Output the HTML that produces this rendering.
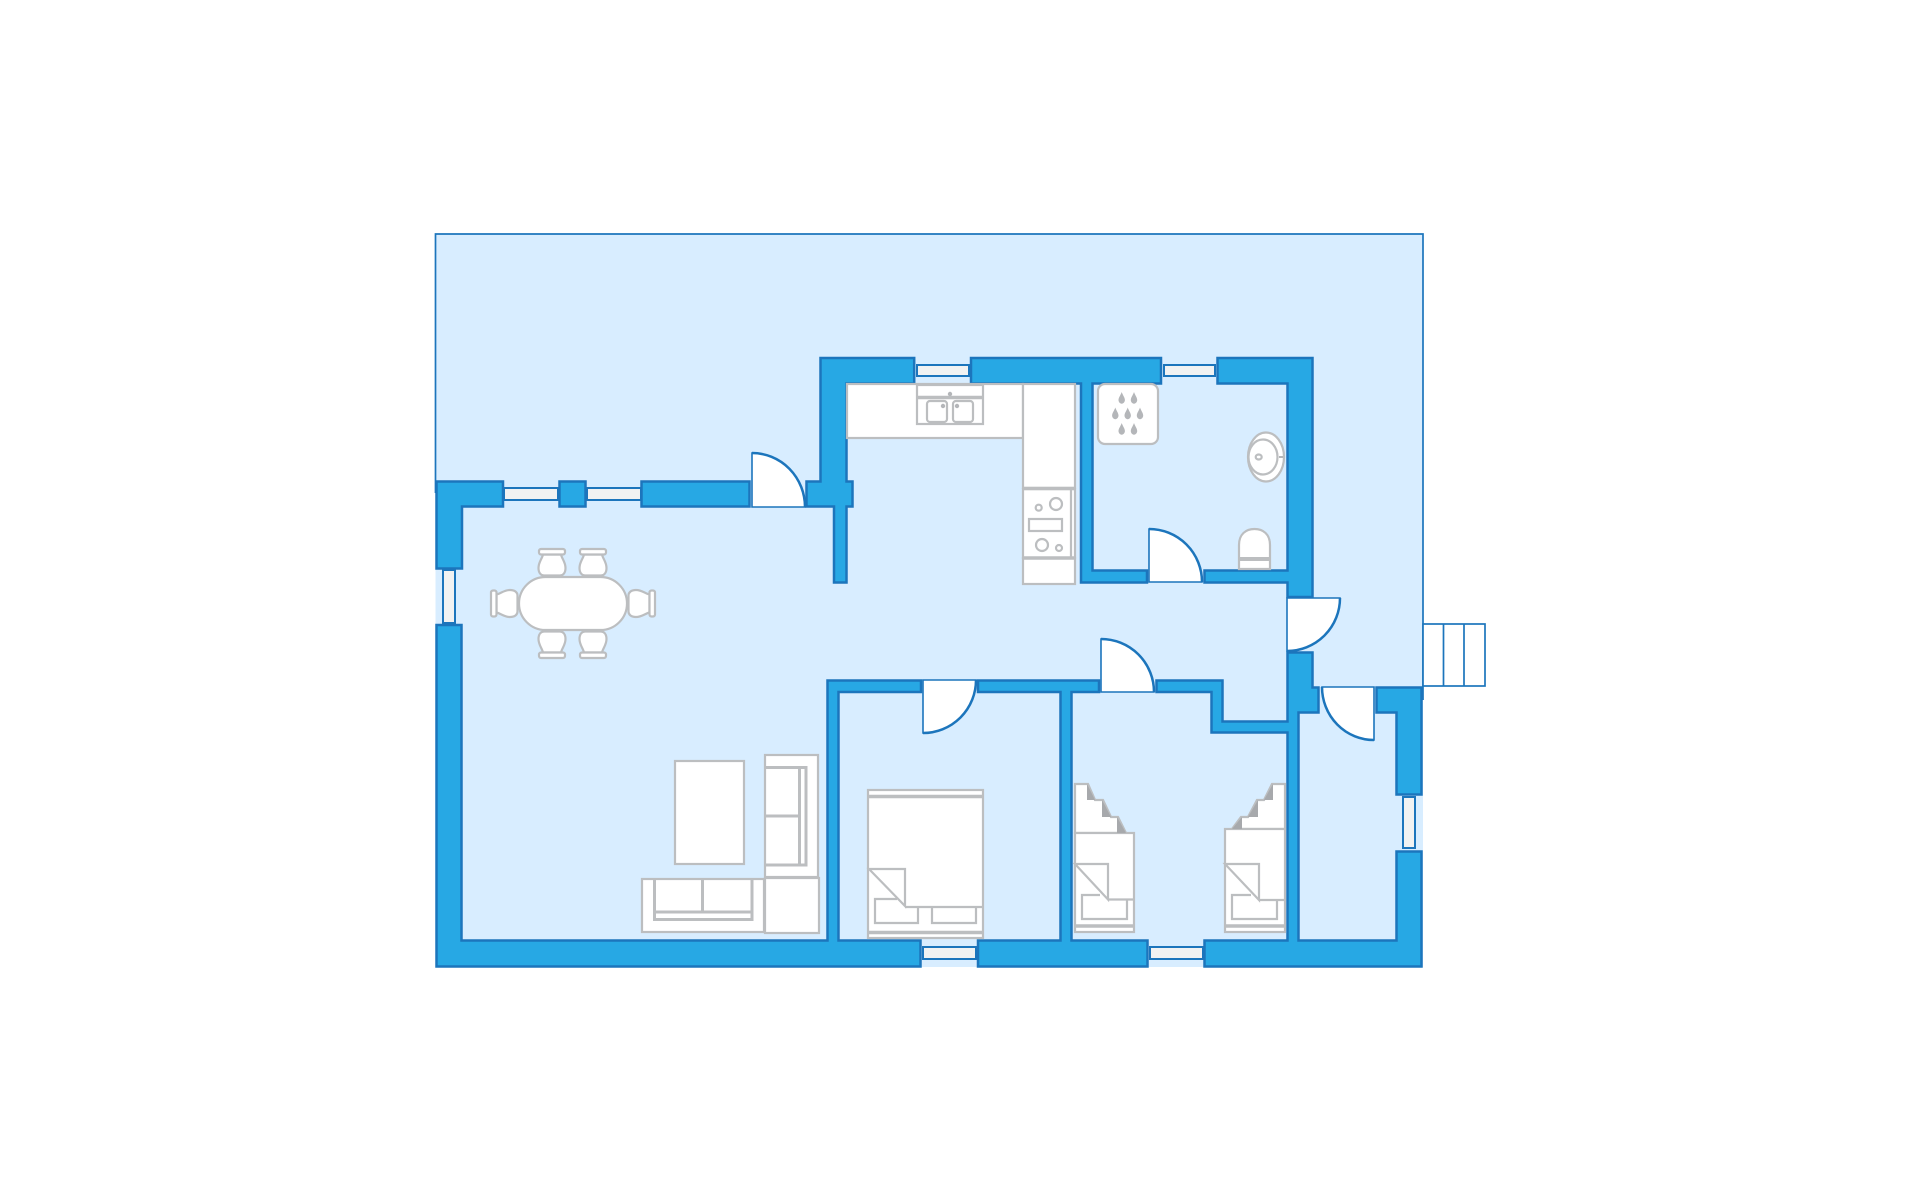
<!DOCTYPE html>
<html><head><meta charset="utf-8"><style>html,body{margin:0;padding:0;background:#fff}svg{display:block}</style></head><body>
<svg xmlns="http://www.w3.org/2000/svg" width="1920" height="1200" viewBox="0 0 1920 1200">
<defs><g id="chair"><path d="M-9 5.500C-10 10-13.500 13-13.500 19C-13.500 24-11 26.500-8 26.500H8C11 26.500 13.500 24 13.500 19C13.500 13 10 10 9 5.500Z"/><rect x="-13" y="0" width="26" height="5.500" rx="2"/></g></defs>
<rect x="435.500" y="234" width="987.500" height="733" fill="#d8edff"/>
<path d="M435.500 493V234H1423V700" fill="none" stroke="#1c75bc" stroke-width="1.700"/>
<g fill="#fff" stroke="#1c75bc" stroke-width="1.700">
<rect x="1423" y="624" width="62" height="62"/><path d="M1443.500 624V686M1464 624V686" fill="none"/>
</g>
<g fill="#27a8e4" stroke="#1c75bc" stroke-width="2.500" stroke-linejoin="miter">
<path d="M436.500 481.500H503V506.500H462V568.500H436.500Z"/>
<rect x="559.500" y="481.500" width="26" height="25"/>
<rect x="641.500" y="481.500" width="108" height="25"/>
<path d="M806.500 481.500H820.500V358H914.200V383.500H846.500V481.500H852.500V506.500H846.500V582.500H834V506.500H806.500Z"/>
<path d="M971 358H1161V383.500H1092.500V570.500H1147V582.500H1081V383.500H971Z"/>
<path d="M1217.500 358H1312.500V597H1287.500V582.500H1204.500V570.500H1287.500V383.500H1217.500Z"/>
<path d="M1287.500 652.500H1312.500V687.500H1318.500V712.500H1298.500V940.500H1396.500V851.500H1421.500V966.500H1204.500V940.500H1287.500V732.500H1211.500V692H1156.500V680.500H1222.500V721.500H1287.500Z"/>
<path d="M1376.500 687.500H1421.500V794.500H1396.500V712.500H1376.500Z"/>
<path d="M436.500 625H461.500V940.500H827.500V680.500H921V692H838.500V940.500H920.500V966.500H436.500Z"/>
<path d="M978 680.500H1099V692H1071.500V940.500H1147.500V966.500H978V940.500H1060.500V692H978Z"/>
</g>
<g fill="#f1f2f2" stroke="#1c75bc" stroke-width="2">
<rect x="504" y="488" width="54" height="12"/><rect x="587" y="488" width="54" height="12"/>
<rect x="443" y="570" width="12" height="53"/>
<rect x="917" y="365" width="52" height="11"/><rect x="1164" y="365" width="51" height="11"/>
<rect x="923" y="947" width="53" height="12"/><rect x="1150" y="947" width="53" height="12"/>
<rect x="1403" y="797" width="12" height="51"/>
</g>
<g fill="#fff" stroke="#1c75bc" stroke-width="1.600">
<path d="M752 507V453A53 54 0 0 1 805 507Z"/>
<path d="M1149 582V529A53 53 0 0 1 1202 582Z"/>
<path d="M1101 692V639A53 53 0 0 1 1154 692Z"/>
<path d="M923 680V733A53 53 0 0 0 976 680Z"/>
<path d="M1287 598H1340A53 53 0 0 1 1287 651Z"/>
<path d="M1374 687V740A52 53 0 0 1 1322 687Z"/>
</g>
<g fill="none" stroke="#1c75bc" stroke-width="2.500">
<path d="M752 453A53 54 0 0 1 805 507"/>
<path d="M1149 529A53 53 0 0 1 1202 582"/>
<path d="M1101 639A53 53 0 0 1 1154 692"/>
<path d="M923 733A53 53 0 0 0 976 680"/>
<path d="M1340 598A53 53 0 0 1 1287 651"/>
<path d="M1374 740A52 53 0 0 1 1322 687"/>
</g>
<g fill="#fff" stroke="#bcbec0" stroke-width="2.200">
<use href="#chair" transform="translate(552 549)"/><use href="#chair" transform="translate(593 549)"/>
<use href="#chair" transform="translate(552 658) scale(1 -1)"/><use href="#chair" transform="translate(593 658) scale(1 -1)"/>
<use href="#chair" transform="translate(491 603.500) rotate(-90)"/><use href="#chair" transform="translate(655 603.500) rotate(90)"/>
<rect x="519" y="577" width="108" height="53" rx="26.500"/>
<rect x="675" y="761" width="69" height="103"/>
<rect x="765" y="755" width="53" height="122"/>
<path d="M765 767.500H806V865H765M765 816H799M799.500 767.500V865" fill="none" stroke-width="3"/>
<rect x="642" y="879" width="122" height="53"/>
<rect x="765" y="878" width="54" height="55"/>
<path d="M654.500 879V919.500H752V879M702.500 879V912M654.500 912H752" fill="none" stroke-width="3"/>
<rect x="868" y="790" width="115" height="148"/>
<path d="M868 796.500H983M868 932.500H983" fill="none" stroke-width="3.500"/>
<path d="M869 869H905V906L869 869ZM905 907H983" fill="none"/>
<path d="M897 899H875V923H918V907M932 908V923H976V907" fill="none"/>
<rect x="847" y="384" width="176" height="54"/><rect x="1023" y="384" width="52" height="104"/>
<rect x="1023" y="489" width="52" height="69"/><rect x="1023" y="558" width="52" height="26"/>
<path d="M1023 488.500H1075M1023 558H1075" stroke-width="3.500" fill="none"/>
<path d="M1071 489V558" fill="none"/>
<circle cx="1038.700" cy="507.700" r="3"/><circle cx="1056" cy="504" r="6"/><rect x="1029" y="519" width="33" height="12"/><circle cx="1042" cy="545" r="6"/><circle cx="1059" cy="548" r="3"/>
<rect x="917" y="385" width="66" height="39" fill="none"/><path d="M917 397.500H983" stroke-width="3.500" fill="none"/>
<rect x="927" y="401" width="20" height="21" rx="3" fill="none"/><rect x="953" y="401" width="20" height="21" rx="3" fill="none"/>
<rect x="1098" y="384" width="60" height="60" rx="7"/>
<ellipse cx="1266" cy="457" rx="18" ry="24.500"/><ellipse cx="1263" cy="457" rx="14.500" ry="17.500"/><ellipse cx="1258.700" cy="457" rx="3" ry="2.500"/>
<path d="M1239 569V545C1239 534 1246 529 1254.500 529C1263 529 1270 534 1270 545V569Z"/>
<path d="M1239 559H1270" stroke-width="4" fill="none"/>
<!-- left twin -->
<path d="M1075 784H1088L1095 800H1103L1111 817H1118L1126 833H1075Z"/>
<rect x="1075" y="833" width="59" height="99"/>
<path d="M1075 864H1108V899.500L1075 864ZM1108 899.500H1134" fill="none"/>
<path d="M1100 895H1082V919H1127V900" fill="none"/>
<path d="M1075 926H1134" stroke-width="3.500" fill="none"/>
<!-- right twin -->
<path d="M1285 784H1272L1264 800H1257L1248 817H1241L1232 829H1285Z"/>
<rect x="1225" y="829" width="60" height="103"/>
<path d="M1225 864H1259V900L1225 864ZM1259 900H1285" fill="none"/>
<path d="M1251 895H1232V919H1277V900" fill="none"/>
<path d="M1225 926H1285" stroke-width="3.500" fill="none"/>
</g>
<g fill="#a7a9ac">
<path d="M1087 784L1095 800H1087Z"/><path d="M1102 800L1111 817H1102Z"/><path d="M1117 817L1126 833H1117Z"/>
<path d="M1273 784L1264 800H1273Z"/><path d="M1258 800L1248 817H1258Z"/><path d="M1242 817L1232 829H1242Z"/>
</g>
<g fill="#b4b6b9" stroke="none">
<circle cx="950" cy="394" r="2.200"/><circle cx="943" cy="406" r="2.200"/><circle cx="957" cy="406" r="2.200"/>
<rect x="1279" y="456" width="4" height="2"/>
<g id="dr">
<path d="M1121.700 392C1120.700 395 1118.500 397.500 1118.500 400C1118.500 402 1120 403.700 1121.700 403.700C1123.400 403.700 1124.900 402 1124.900 400C1124.900 397.500 1122.700 395 1121.700 392Z"/>
<path d="M1134 392C1133 395 1130.800 397.500 1130.800 400C1130.800 402 1132.300 403.700 1134 403.700C1135.700 403.700 1137.200 402 1137.200 400C1137.200 397.500 1135 395 1134 392Z"/>
</g>
<use href="#dr" transform="translate(0 31)"/>
<path d="M1115.300 407.500C1114.300 410.500 1112.100 413 1112.100 415.500C1112.100 417.500 1113.600 419.200 1115.300 419.200C1117 419.200 1118.500 417.500 1118.500 415.500C1118.500 413 1116.300 410.500 1115.300 407.500Z"/>
<path d="M1127.700 407.500C1126.700 410.500 1124.500 413 1124.500 415.500C1124.500 417.500 1126 419.200 1127.700 419.200C1129.400 419.200 1130.900 417.500 1130.900 415.500C1130.900 413 1128.700 410.500 1127.700 407.500Z"/>
<path d="M1140 407.500C1139 410.500 1136.800 413 1136.800 415.500C1136.800 417.500 1138.300 419.200 1140 419.200C1141.700 419.200 1143.200 417.500 1143.200 415.500C1143.200 413 1141 410.500 1140 407.500Z"/>
</g>
</svg>
</body></html>
